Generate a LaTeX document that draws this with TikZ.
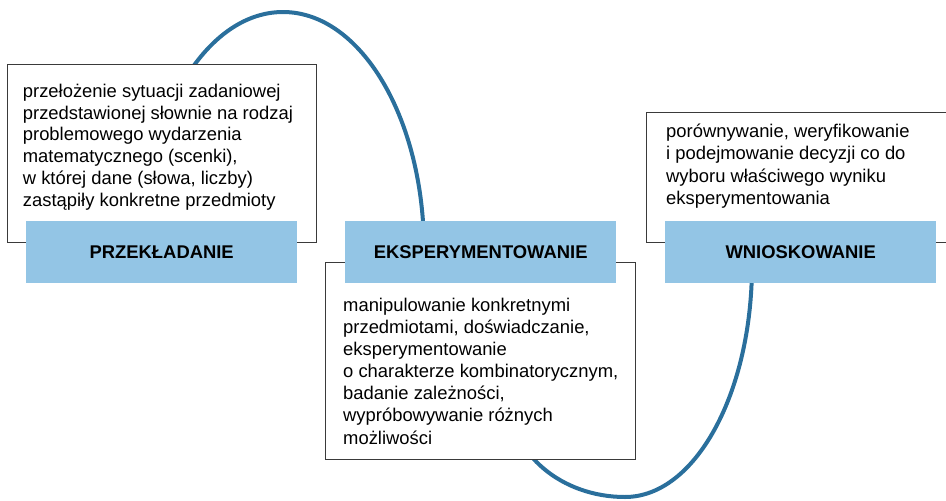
\documentclass[tikz,border=0pt]{standalone}
\usepackage{fontspec}
\setmainfont{Liberation Sans}
\definecolor{curveblue}{HTML}{2A6F9C}
\definecolor{labelblue}{HTML}{93C5E5}
\definecolor{boxline}{HTML}{3A3A3A}
\begin{document}
\begin{tikzpicture}[x=1pt,y=1pt,
  whitebox/.style={draw=boxline, line width=1pt, fill=white, inner sep=0pt, anchor=north west},
  labelbox/.style={fill=labelblue, minimum width=271pt, minimum height=62pt, inner sep=0pt, anchor=north west, font=\fontsize{18.4}{22}\selectfont\bfseries},
  desc/.style={align=left, inner sep=0pt, anchor=base west, font=\fontsize{18.4}{22}\selectfont},
  loop/.style={draw=curveblue, line width=4pt}]
\useasboundingbox (0,0) rectangle (946,-501);
\clip (0,0) rectangle (946,-501);
% curves
\draw[loop] (142,-250) arc[start angle=180, end angle=0, x radius=141, y radius=238];
\draw[loop] (510,-400) arc[start angle=180, end angle=270, x radius=115, y radius=97]
  arc[start angle=270, end angle=360, x radius=127, y radius=232];
% white boxes
\node[whitebox, minimum width=309pt, minimum height=178pt] (box1) at (7,-64) {};
\node[whitebox, minimum width=310pt, minimum height=197pt] (box2) at (325,-262) {};
\node[whitebox, minimum width=304pt, minimum height=130pt] (box3) at (646,-112) {};
% descriptions (anchored at last baseline)
\node[desc, font=\fontsize{18.4}{21.7}\selectfont] (t1) at (22.7,-206) {przełożenie sytuacji zadaniowej\\przedstawionej słownie na rodzaj\\problemowego wydarzenia\\matematycznego (scenki),\\w której dane (słowa, liczby)\\zastąpiły konkretne przedmioty};
\node[desc, font=\fontsize{18.4}{22.1}\selectfont] (t2) at (343,-444) {manipulowanie konkretnymi\\przedmiotami, doświadczanie,\\eksperymentowanie\\o charakterze kombinatorycznym,\\badanie zależności,\\wypróbowywanie różnych\\możliwości};
\node[desc, font=\fontsize{18.4}{22.3}\selectfont] (t3) at (666,-204.5) {porównywanie, weryfikowanie\\i podejmowanie decyzji co do\\wyboru właściwego wyniku\\eksperymentowania};
% label boxes
\node[labelbox] (l1) at (26,-221) {PRZEKŁADANIE};
\node[labelbox] (l2) at (345,-221) {EKSPERYMENTOWANIE};
\node[labelbox] (l3) at (665,-221) {WNIOSKOWANIE};
\end{tikzpicture}
\end{document}
